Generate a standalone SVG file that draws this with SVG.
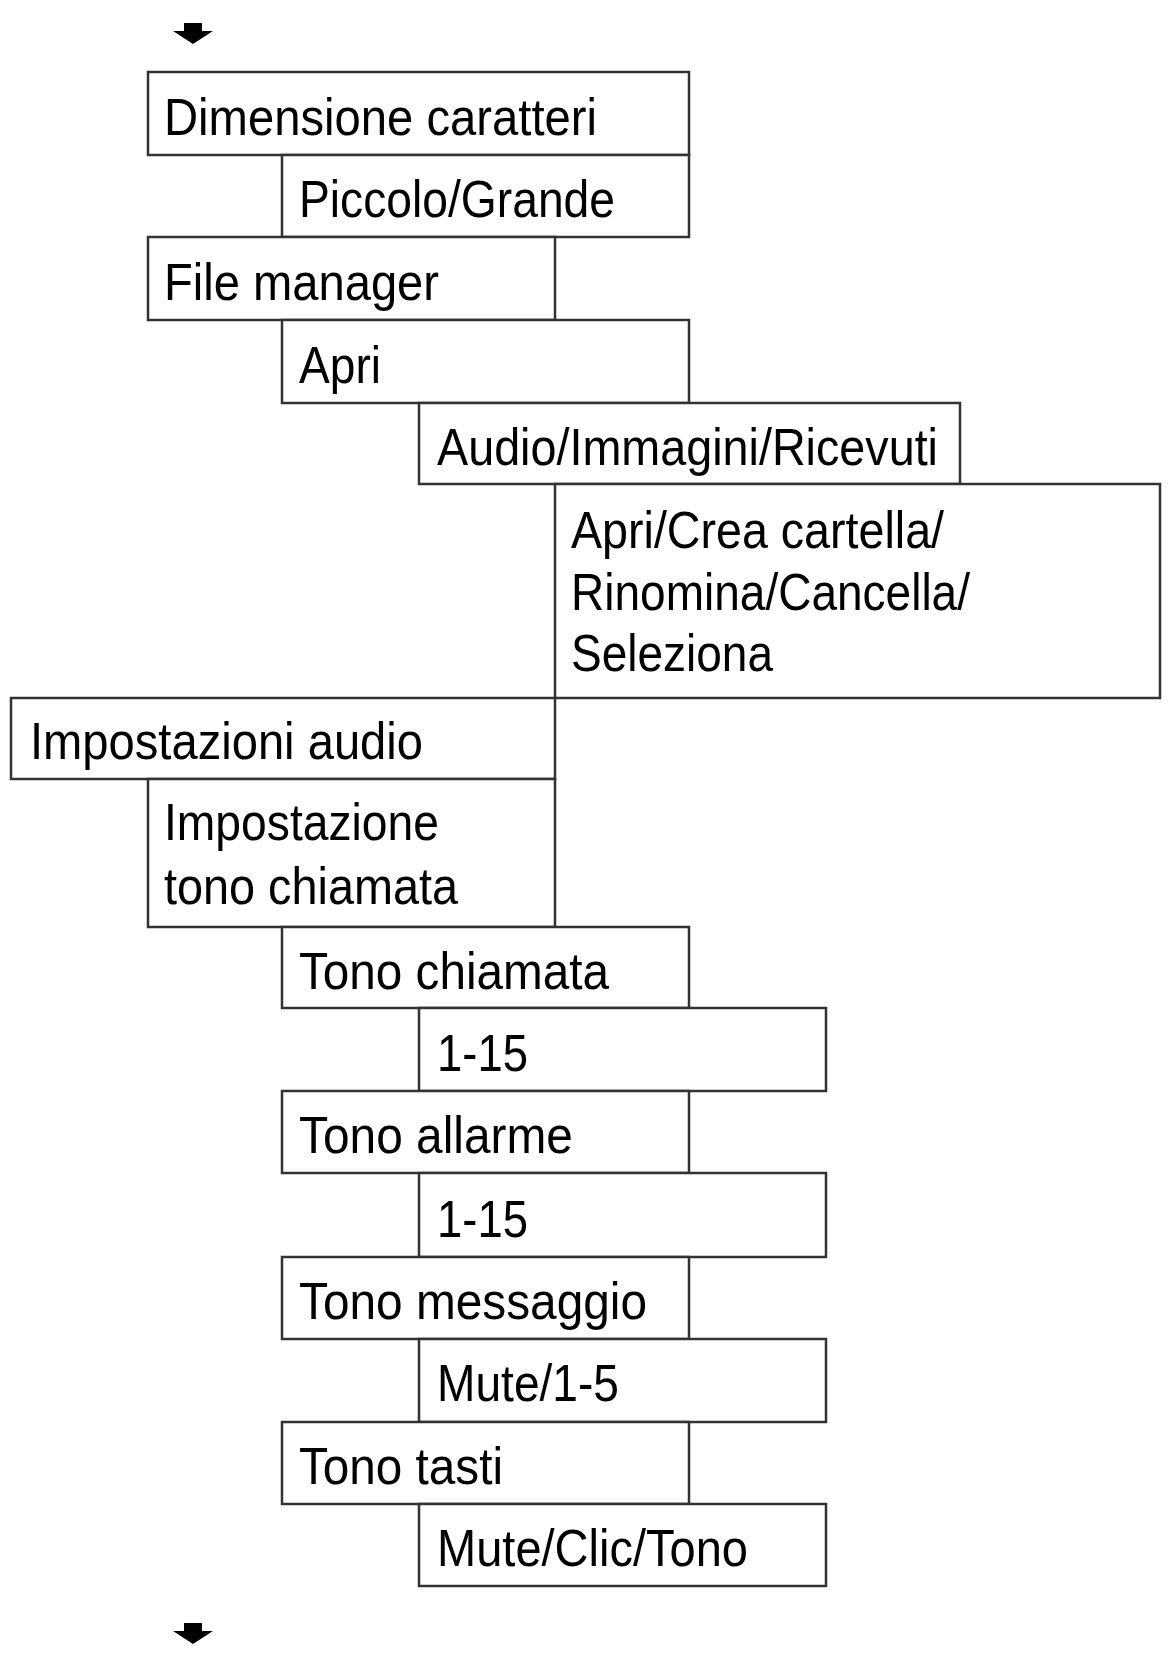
<svg xmlns="http://www.w3.org/2000/svg" width="1173" height="1665" viewBox="0 0 1173 1665">
<style>
rect{fill:#fff;stroke:#333;stroke-width:2.5}
text{font-family:"Liberation Sans",Arial,sans-serif;font-size:52px;fill:#000}
</style>
<defs><path id="arr" d="M-9,0 h18 v8 h11 l-20,13 l-20,-13 h11z" fill="#000"/></defs>
<rect width="1173" height="1665" style="fill:#fff;stroke:none"/>
<g id="connectors"><use href="#arr" x="193" y="23"/><use href="#arr" x="193" y="1623"/></g>
<g id="n1"><rect x="148" y="72" width="541" height="83"/><text x="164" y="135" textLength="433" lengthAdjust="spacingAndGlyphs">Dimensione caratteri</text></g>
<g id="n2"><rect x="282" y="155" width="407" height="82"/><text x="299" y="217" textLength="316" lengthAdjust="spacingAndGlyphs">Piccolo/Grande</text></g>
<g id="n3"><rect x="148" y="237" width="407" height="83"/><text x="164" y="300" textLength="275" lengthAdjust="spacingAndGlyphs">File manager</text></g>
<g id="n4"><rect x="282" y="320" width="407" height="83"/><text x="299" y="383" textLength="82" lengthAdjust="spacingAndGlyphs">Apri</text></g>
<g id="n5"><rect x="419" y="403" width="541" height="81"/><text x="437" y="465" textLength="501" lengthAdjust="spacingAndGlyphs">Audio/Immagini/Ricevuti</text></g>
<g id="n6"><rect x="555" y="484" width="605" height="214"/><text x="571" y="548" textLength="373" lengthAdjust="spacingAndGlyphs">Apri/Crea cartella/</text><text x="571" y="610" textLength="399" lengthAdjust="spacingAndGlyphs">Rinomina/Cancella/</text><text x="571" y="671" textLength="202" lengthAdjust="spacingAndGlyphs">Seleziona</text></g>
<g id="n7"><rect x="11" y="698" width="544" height="81"/><text x="30" y="759" textLength="393" lengthAdjust="spacingAndGlyphs">Impostazioni audio</text></g>
<g id="n8"><rect x="148" y="779" width="407" height="148"/><text x="164" y="840" textLength="275" lengthAdjust="spacingAndGlyphs">Impostazione</text><text x="164" y="904" textLength="294" lengthAdjust="spacingAndGlyphs">tono chiamata</text></g>
<g id="n9"><rect x="282" y="927" width="407" height="81"/><text x="299" y="989" textLength="310" lengthAdjust="spacingAndGlyphs">Tono chiamata</text></g>
<g id="n10"><rect x="419" y="1008" width="407" height="83"/><text x="437" y="1071" textLength="91" lengthAdjust="spacingAndGlyphs">1-15</text></g>
<g id="n11"><rect x="282" y="1091" width="407" height="82"/><text x="299" y="1153" textLength="274" lengthAdjust="spacingAndGlyphs">Tono allarme</text></g>
<g id="n12"><rect x="419" y="1173" width="407" height="84"/><text x="437" y="1237" textLength="91" lengthAdjust="spacingAndGlyphs">1-15</text></g>
<g id="n13"><rect x="282" y="1257" width="407" height="82"/><text x="299" y="1319" textLength="348" lengthAdjust="spacingAndGlyphs">Tono messaggio</text></g>
<g id="n14"><rect x="419" y="1339" width="407" height="83"/><text x="437" y="1401" textLength="182" lengthAdjust="spacingAndGlyphs">Mute/1-5</text></g>
<g id="n15"><rect x="282" y="1422" width="407" height="82"/><text x="299" y="1484" textLength="204" lengthAdjust="spacingAndGlyphs">Tono tasti</text></g>
<g id="n16"><rect x="419" y="1504" width="407" height="82"/><text x="437" y="1566" textLength="311" lengthAdjust="spacingAndGlyphs">Mute/Clic/Tono</text></g>
</svg>
